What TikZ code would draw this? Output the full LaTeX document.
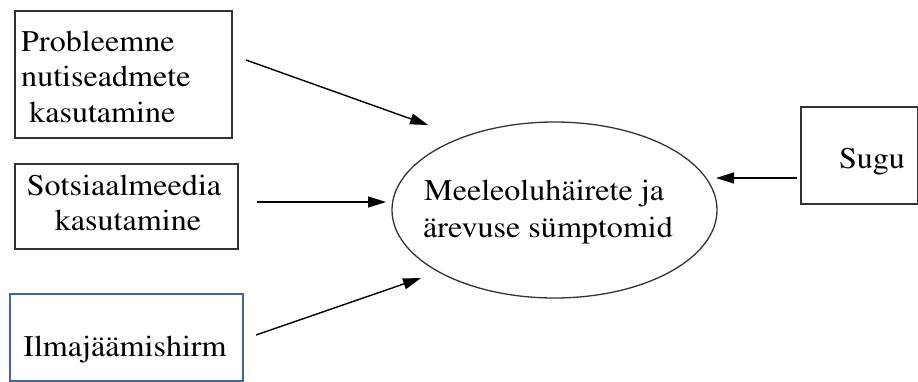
\documentclass[tikz,border=0pt]{standalone}
\usepackage[T1]{fontenc}
\usepackage{times}
\usetikzlibrary{arrows.meta,shapes.geometric}
\definecolor{boxblue}{RGB}{70,100,160}
\begin{document}
\begin{tikzpicture}[x=1pt,y=-1pt,
  box/.style={draw=black!80,line width=1.7pt,inner sep=0pt},
  lbl/.style={font=\fontsize{30}{36}\selectfont,inner sep=0pt,transform shape,xscale=1.07},
  arr/.style={line width=1.4pt,-{Triangle[length=18pt,width=11pt]}}]
\useasboundingbox (0,0) rectangle (918,381);
% boxes
\node[box,minimum width=217pt,minimum height=127pt,anchor=north west] (b1) at (14,10) {};
\node[box,minimum width=223pt,minimum height=85pt,anchor=north west] (b2) at (14,163) {};
\node[box,draw=boxblue,minimum width=233pt,minimum height=87pt,anchor=north west] (b3) at (9,293) {};
\node[box,minimum width=117pt,minimum height=97pt,anchor=north west] (b4) at (800,106) {};
\node[draw=black!80,line width=1.3pt,ellipse,minimum width=325pt,minimum height=176pt,inner sep=0pt] (ell) at (554.5,210) {};
% texts
\node[lbl,anchor=base west] (t1a) at (21,51) {Probleemne};
\node[lbl,anchor=base west] (t1b) at (21,86) {nutiseadmete};
\node[lbl,anchor=base west] (t1c) at (29,122) {kasutamine};
\node[lbl,anchor=base] (t2a) at (124,195) {Sotsiaalmeedia};
\node[lbl,anchor=base] (t2b) at (128,230) {kasutamine};
\node[lbl,anchor=base] (t3) at (125,356) {Ilmajäämishirm};
\node[lbl,anchor=base west] (te1) at (424,200) {Meeleoluhäirete ja};
\node[lbl,anchor=base west] (te2) at (423,237) {ärevuse sümptomid};
\node[lbl,anchor=base] (t4) at (872,168) {Sugu};
% connector ends
\coordinate (s1) at (246,60);  \coordinate (e1) at (428,125);
\coordinate (s2) at (257,202); \coordinate (e2) at (386,202);
\coordinate (s3) at (256,335); \coordinate (e3) at (421,278);
\coordinate (s4) at (797,178); \coordinate (e4) at (716,178);
\draw[arr] (s1) -- (e1);
\draw[arr] (s2) -- (e2);
\draw[arr] (s3) -- (e3);
\draw[arr] (s4) -- (e4);
\end{tikzpicture}
\end{document}
